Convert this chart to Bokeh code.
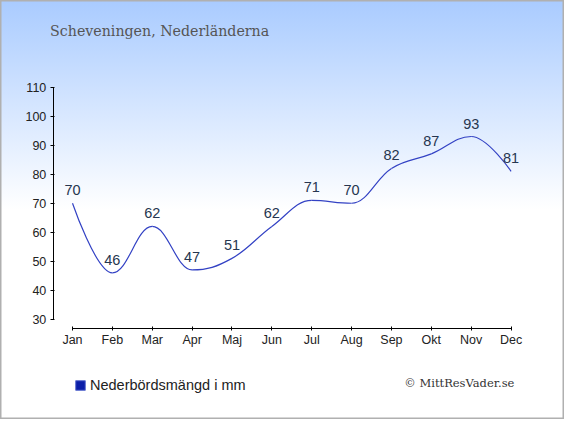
from bokeh.plotting import figure
from bokeh.models import Range1d, LinearAxis, FixedTicker, Label, Legend, LegendItem
from bokeh.core.properties import value
from bokeh.embed import file_html
from bokeh.resources import INLINE

# ---- data ----
months = ["Jan", "Feb", "Mar", "Apr", "Maj", "Jun", "Jul", "Aug", "Sep", "Okt", "Nov", "Dec"]
rain_mm = [70, 46, 62, 47, 51, 62, 71, 70, 82, 87, 93, 81]
y_ticks = [30, 40, 50, 60, 70, 80, 90, 100, 110]
title_text = "Scheveningen, Nederländerna"
series_name = "Nederbördsmängd i mm"
credit_text = "© MittResVader.se"

xs = list(range(len(months)))
NAN = float("nan")


def spline_controls(px_list, py_list, smoothing=1.5):
    n = len(px_list)
    left = [(px_list[i], py_list[i]) for i in range(n)]
    right = [(px_list[i], py_list[i]) for i in range(n)]
    d = smoothing + 1
    for i in range(1, n - 1):
        px, py = px_list[i], py_list[i]
        lx, ly = px_list[i - 1], py_list[i - 1]
        nx, ny = px_list[i + 1], py_list[i + 1]
        lcx = (smoothing * px + lx) / d
        lcy = (smoothing * py + ly) / d
        rcx = (smoothing * px + nx) / d
        rcy = (smoothing * py + ny) / d
        corr = ((rcy - lcy) * (rcx - px)) / (rcx - lcx) + py - rcy
        lcy += corr
        rcy += corr
        if lcy > ly and lcy > py:
            lcy = max(ly, py); rcy = 2 * py - lcy
        elif lcy < ly and lcy < py:
            lcy = min(ly, py); rcy = 2 * py - lcy
        if rcy > ny and rcy > py:
            rcy = max(ny, py); lcy = 2 * py - rcy
        elif rcy < ny and rcy < py:
            rcy = min(ny, py); lcy = 2 * py - rcy
        left[i] = (lcx, lcy)
        right[i] = (rcx, rcy)
    return left, right


left_c, right_c = spline_controls(xs, rain_mm)
seg = range(len(xs) - 1)

# frame covers the whole canvas; axes are pinned inside it
p = figure(width=564, height=419,
           x_range=Range1d(-1.8059, 12.340), y_range=Range1d(-4.537, 139.88),
           output_backend="svg", toolbar_location=None,
           x_axis_type=None, y_axis_type=None,
           min_border=0)
p.grid.visible = False
p.outline_line_color = "#b0b0b0"
p.outline_line_width = 2
p.background_fill_alpha = 0
p.border_fill_alpha = 0
p.styles = {"background": "linear-gradient(to bottom, #a9cbff 0%, #ffffff 50%, #ffffff 100%)"}

yaxis = LinearAxis(ticker=FixedTicker(ticks=y_ticks), bounds=(30, 110), fixed_location=-0.4816)
yaxis.major_tick_out = 3
yaxis.major_tick_in = 1
yaxis.minor_tick_line_color = None
yaxis.major_label_standoff = 4
yaxis.major_label_text_font = "Liberation Sans"
yaxis.major_label_text_font_size = "12.5px"
yaxis.major_label_text_color = "#222222"
yaxis.axis_line_color = "black"
p.add_layout(yaxis, "left")

xaxis = LinearAxis(ticker=FixedTicker(ticks=xs), bounds=(0, 11), fixed_location=26.657,
                   major_label_overrides={i: m for i, m in enumerate(months)})
xaxis.major_tick_out = 2
xaxis.major_tick_in = 2
xaxis.minor_tick_line_color = None
xaxis.major_label_standoff = 2
xaxis.major_label_text_font = "Liberation Sans"
xaxis.major_label_text_font_size = "12.5px"
xaxis.major_label_text_color = "#222222"
p.add_layout(xaxis, "below")

p.bezier(x0=[xs[i] for i in seg], y0=[rain_mm[i] for i in seg],
         x1=[xs[i + 1] for i in seg], y1=[rain_mm[i + 1] for i in seg],
         cx0=[right_c[i][0] for i in seg], cy0=[right_c[i][1] for i in seg],
         cx1=[left_c[i + 1][0] for i in seg], cy1=[left_c[i + 1][1] for i in seg],
         line_color="#3342c4", line_width=1.2)

p.text(x=xs, y=rain_mm, text=[str(v) for v in rain_mm],
       text_align="center", text_baseline="middle", y_offset=-13,
       text_font=value("Liberation Sans"), text_font_size="14.5px", text_color="#263650")

# legend proxy: one row with no position, so only its legend swatch is drawn
sq = p.quad(left=[NAN], right=[NAN], bottom=[NAN], top=[NAN],
            fill_color="#0b1ea8", line_color="#6070d0", line_width=1)
legend = Legend(items=[LegendItem(label=series_name, renderers=[sq])],
                location=(74, 26), orientation="horizontal",
                glyph_width=12, glyph_height=12, label_standoff=4,
                padding=0, margin=0, spacing=0,
                background_fill_alpha=0, border_line_color=None,
                label_text_font="Liberation Sans", label_text_font_size="14.5px",
                label_text_color="#222222", label_height=12)
p.add_layout(legend)

p.add_layout(Label(x=-0.5618, y=129.27, text=title_text, text_align="left", text_baseline="middle",
                   text_font="DejaVu Serif", text_font_size="14.2px", text_color="#555555"))
p.add_layout(Label(x=11.083, y=7.906, text=credit_text, text_align="right", text_baseline="middle",
                   text_font="DejaVu Serif", text_font_size="11.5px", text_color="#333333"))

open("out.html", "w").write(file_html(p, INLINE))
